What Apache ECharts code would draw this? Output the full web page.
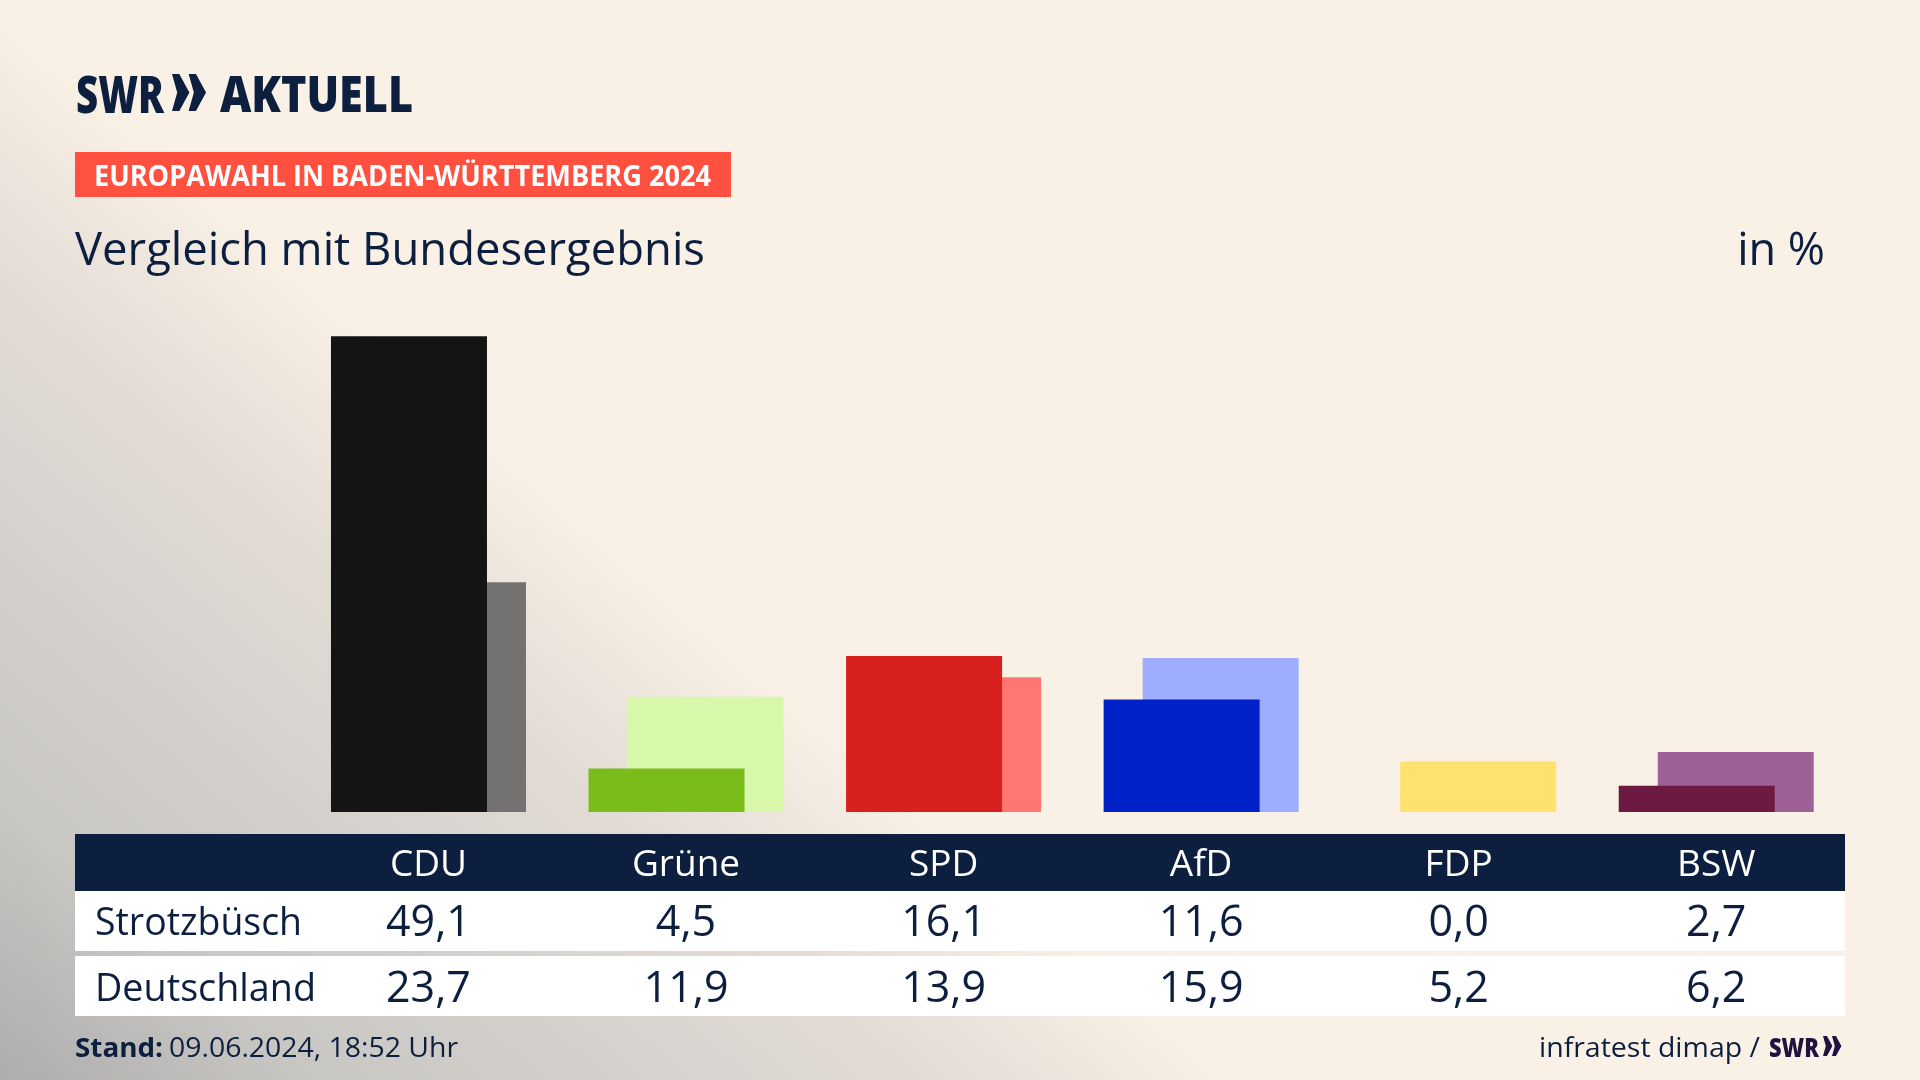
<!DOCTYPE html>
<html>
<head>
<meta charset="utf-8">
<title>Europawahl Baden-Württemberg 2024</title>
<script src="https://cdn.jsdelivr.net/npm/echarts@6/dist/echarts.min.js"></script>
<style>
    html, body { margin: 0; padding: 0; background: #faf1e6; }
    #main { width: 1920px; height: 1080px; }
</style>
</head>
<body>
<div id="main"></div>
<script>
    var parties = ['CDU', 'Grüne', 'SPD', 'AfD', 'FDP', 'BSW'];
    var strotzbuesch = [49.1, 4.5, 16.1, 11.6, 0.0, 2.7];
    var deutschland = [23.7, 11.9, 13.9, 15.9, 5.2, 6.2];
    var frontColors = ['#141414', '#7abd1a', '#d8201f', '#0020c8', '#ffe170', '#6c1a41'];
    var backColors = ['#737271', '#d7f7aa', '#ff7770', '#9fadff', '#ffe170', '#9d6198'];
    var rowNames = ['Strotzbüsch', 'Deutschland'];

    var navy = '#0c1f3f';
    var fontName = '"Open Sans"';

    function deNumber(v) {
        return v.toFixed(1).replace('.', ',');
    }

    // text with baseline at y, squeezed to the given width
    function fitText(text, x, y, size, weight, width, color, anchor) {
        var ctx = document.createElement('canvas').getContext('2d');
        ctx.font = weight + ' ' + size + 'px ' + fontName;
        var sx = width ? width / ctx.measureText(text).width : 1;
        return {
            type: 'text',
            x: x,
            y: y + size * 0.25,
            scaleX: sx,
            z: 5,
            style: {
                text: text,
                fill: color || navy,
                font: weight + ' ' + size + 'px ' + fontName,
                textAlign: anchor || 'left',
                textVerticalAlign: 'bottom'
            }
        };
    }

    function chevrons(x, y, h, color) {
        // the two arrows of the SWR logo
        var w = h * 0.47;
        function one(x0) {
            return {
                type: 'polygon',
                z: 5,
                shape: { points: [[x0, y], [x0 + w * 0.42, y], [x0 + w, y + h / 2], [x0 + w * 0.42, y + h], [x0, y + h], [x0 + w * 0.3, y + h / 2]] },
                style: { fill: color }
            };
        }
        return [one(x), one(x + h * 0.45)];
    }

    function band(y, h, color) {
        return { type: 'rect', z: 0, shape: { x: 75, y: y, width: 1770, height: h }, style: { fill: color } };
    }

    var graphics = [
        band(834, 57, navy),
        band(891, 60, '#ffffff'),
        band(956, 60, '#ffffff'),
        { type: 'rect', z: 0, shape: { x: 75, y: 152, width: 656, height: 45 }, style: { fill: '#ff5040' } },
        fitText('SWR', 76, 111, 52, 800, 88),
        fitText('AKTUELL', 220, 110, 50, 800, 193),
        fitText('EUROPAWAHL IN BADEN-WÜRTTEMBERG 2024', 94, 185, 28, 'bold', 617, '#ffffff'),
        fitText('Vergleich mit Bundesergebnis', 75, 263, 46, 'normal', 630),
        fitText('in %', 1825, 263, 45, 'normal', 0, navy, 'right'),
        fitText(rowNames[0], 95, 934, 39, 'normal', 207),
        fitText(rowNames[1], 95, 1000, 39, 'normal', 221),
        fitText('Stand:', 75, 1056, 27, 'bold', 88),
        fitText('09.06.2024, 18:52 Uhr', 169, 1056, 27, 'normal', 289),
        fitText('infratest dimap /', 1539, 1056, 28, 'normal', 221),
        fitText('SWR', 1769, 1056, 27, 800, 50, '#22103f')
    ].concat(chevrons(172, 74, 37, navy), chevrons(1823, 1036, 20, '#22103f'));

    function labelAxis(names, offset, size) {
        return {
            type: 'category',
            data: names,
            position: 'bottom',
            offset: offset,
            axisLine: { show: false },
            axisTick: { show: false },
            axisLabel: {
                show: true,
                interval: 0,
                margin: 0,
                color: navy,
                fontFamily: fontName,
                fontSize: size
            }
        };
    }

    var headerAxis = labelAxis(parties, 35, 37);
    headerAxis.axisLabel.color = '#ffffff';

    var chart = echarts.init(document.getElementById('main'));
    chart.setOption({
        animation: false,
        backgroundColor: new echarts.graphic.LinearGradient(0, 1080, 534, 462, [
            { offset: 0, color: '#adadac' },
            { offset: 0.25, color: '#c8c6c3' },
            { offset: 0.5, color: '#d4d1cc' },
            { offset: 0.75, color: '#e3dcd5' },
            { offset: 1, color: '#faf1e6' }
        ], true),
        graphic: graphics,
        grid: { left: 299.7, width: 1545.3, top: 327.5, height: 484.5 },
        xAxis: [
            headerAxis,
            labelAxis(strotzbuesch.map(deNumber), 90, 43),
            labelAxis(deutschland.map(deNumber), 156, 43)
        ],
        yAxis: { type: 'value', min: 0, max: 50, show: false },
        series: [
            {
                name: rowNames[0],
                type: 'bar',
                z: 3,
                barWidth: 156,
                barGap: '-75%',
                data: strotzbuesch.map(function (v, i) {
                    return { value: v, itemStyle: { color: frontColors[i] } };
                })
            },
            {
                name: rowNames[1],
                type: 'bar',
                z: 2,
                barWidth: 156,
                data: deutschland.map(function (v, i) {
                    return { value: v, itemStyle: { color: backColors[i] } };
                })
            }
        ]
    });
</script>
</body>
</html>
